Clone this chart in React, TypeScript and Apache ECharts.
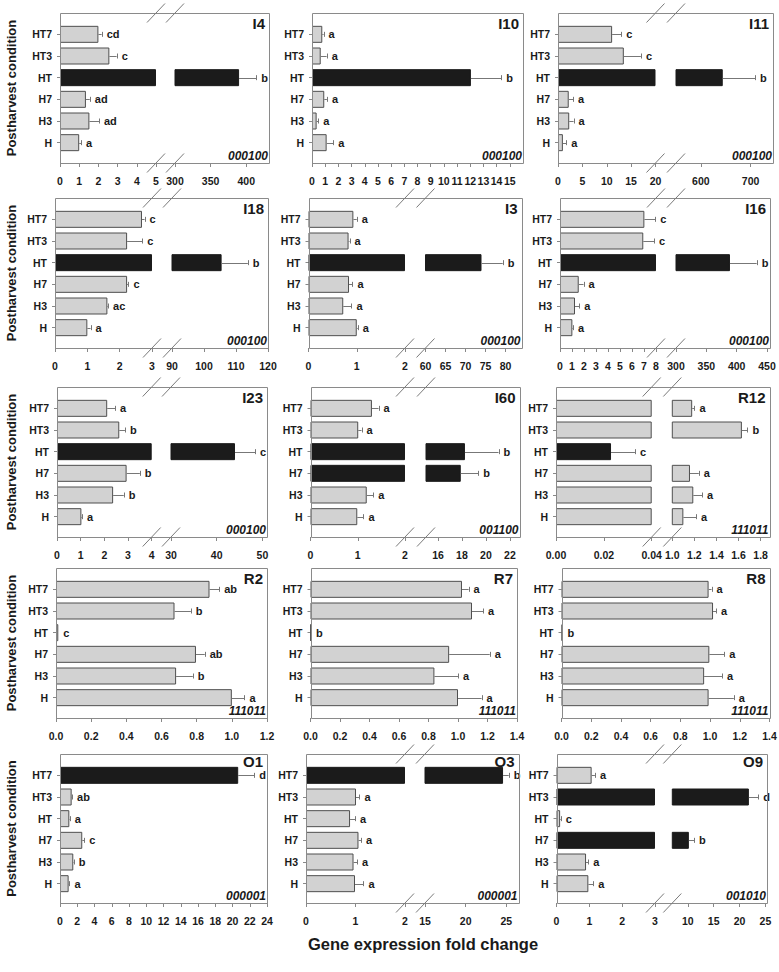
import React, { useEffect, useRef } from 'react';
import * as echarts from 'echarts';

// ---------------- DATA ----------------
const categories = ['H', 'H3', 'H7', 'HT', 'HT3', 'HT7'];

const I4_values = [1.0, 1.53, 1.35, 390, 2.57, 2.0];
const I4_errors = [0.09, 0.5, 0.2, 24, 0.38, 0.17];
const I4_letters = ['a', 'ad', 'ad', 'b', 'c', 'cd'];
const I4_dark = [0, 0, 0, 1, 0, 0];
const I4_code = '000100';
const I4_axis = [
  { min: 0, max: 5, ticks: [0, 1, 2, 3, 4, 5], decimals: 0 },
  { min: 300, max: 432, ticks: [300, 350, 400], decimals: 0 },
];

const I10_values = [1.11, 0.35, 0.93, 12.05, 0.66, 0.78];
const I10_errors = [0.5, 0.12, 0.2, 2.3, 0.45, 0.1];
const I10_letters = ['a', 'a', 'a', 'b', 'a', 'a'];
const I10_dark = [0, 0, 0, 1, 0, 0];
const I10_code = '000100';
const I10_axis = [
  { min: 0, max: 16, ticks: [0, 1, 2, 3, 4, 5, 6, 7, 8, 9, 10, 11, 12, 13, 14, 15], decimals: 0 },
];

const I11_values = [1.0, 2.3, 2.2, 644, 13.5, 11.1];
const I11_errors = [0.7, 0.9, 0.9, 65, 3.5, 1.85];
const I11_letters = ['a', 'a', 'a', 'b', 'c', 'c'];
const I11_dark = [0, 0, 0, 1, 0, 0];
const I11_code = '000100';
const I11_axis = [
  { min: 0, max: 20, ticks: [0, 5, 10, 15, 20], decimals: 0 },
  { min: 550, max: 745, ticks: [600, 700], decimals: 0 },
];

const I18_values = [1.0, 1.62, 2.23, 105.5, 2.23, 2.69];
const I18_errors = [0.1, 0.02, 0.04, 8.2, 0.47, 0.08];
const I18_letters = ['a', 'ac', 'c', 'b', 'c', 'c'];
const I18_dark = [0, 0, 0, 1, 0, 0];
const I18_code = '000100';
const I18_axis = [
  { min: 0, max: 3, ticks: [0, 1, 2, 3], decimals: 0 },
  { min: 90, max: 120, ticks: [90, 100, 110, 120], decimals: 0 },
];

const I3_values = [1.0, 0.72, 0.84, 74, 0.83, 0.93];
const I3_errors = [0.02, 0.17, 0.07, 5.3, 0.02, 0.07];
const I3_letters = ['a', 'a', 'a', 'b', 'a', 'a'];
const I3_dark = [0, 0, 0, 1, 0, 0];
const I3_code = '000100';
const I3_axis = [
  { min: 0, max: 2, ticks: [0, 1, 2], decimals: 0 },
  { min: 60, max: 84, ticks: [60, 65, 70, 75, 80], decimals: 0 },
];

const I16_values = [1.03, 1.25, 1.56, 389, 6.94, 7.03];
const I16_errors = [0.05, 0.36, 0.4, 44, 0.9, 0.9];
const I16_letters = ['a', 'a', 'a', 'b', 'c', 'c'];
const I16_dark = [0, 0, 0, 1, 0, 0];
const I16_code = '000100';
const I16_axis = [
  { min: 0, max: 8, ticks: [0, 1, 2, 3, 4, 5, 6, 7, 8], decimals: 0 },
  { min: 300, max: 455, ticks: [300, 350, 400, 450], decimals: 0 },
];

const I23_values = [1.03, 2.37, 2.94, 44.0, 2.63, 2.12];
const I23_errors = [0.03, 0.45, 0.56, 4.4, 0.24, 0.33];
const I23_letters = ['a', 'b', 'b', 'c', 'b', 'a'];
const I23_dark = [0, 0, 0, 1, 0, 0];
const I23_code = '000100';
const I23_axis = [
  { min: 0, max: 4, ticks: [0, 1, 2, 3, 4], decimals: 0 },
  { min: 30, max: 51, ticks: [30, 40, 50], decimals: 0 },
];

const I60_values = [0.99, 1.19, 17.9, 18.25, 1.01, 1.3];
const I60_errors = [0.13, 0.14, 1.45, 2.8, 0.07, 0.14];
const I60_letters = ['a', 'a', 'b', 'b', 'a', 'a'];
const I60_dark = [0, 0, 1, 1, 0, 0];
const I60_code = '001100';
const I60_axis = [
  { min: 0, max: 2, ticks: [0, 1, 2], decimals: 0 },
  { min: 15, max: 22.8, ticks: [16, 18, 20, 22], decimals: 0 },
];

const R12_values = [1.1, 1.19, 1.16, 0.023, 1.63, 1.18];
const R12_errors = [0.115, 0.08, 0.08, 0.01, 0.05, 0.02];
const R12_letters = ['a', 'a', 'a', 'c', 'b', 'a'];
const R12_dark = [0, 0, 0, 1, 0, 0];
const R12_code = '111011';
const R12_axis = [
  { min: 0, max: 0.04, ticks: [0, 0.02, 0.04], decimals: 2 },
  { min: 1.0, max: 1.88, ticks: [1.0, 1.2, 1.4, 1.6, 1.8], decimals: 1 },
];

const R2_values = [1.0, 0.683, 0.796, 0.013, 0.674, 0.873];
const R2_errors = [0.072, 0.095, 0.05, 0, 0.093, 0.055];
const R2_letters = ['a', 'b', 'ab', 'c', 'b', 'ab'];
const R2_dark = [0, 0, 0, 0, 0, 0];
const R2_code = '111011';
const R2_axis = [{ min: 0, max: 1.2, ticks: [0, 0.2, 0.4, 0.6, 0.8, 1.0, 1.2], decimals: 1 }];

const R7_values = [1.0, 0.84, 0.94, 0.003, 1.095, 1.027];
const R7_errors = [0.16, 0.16, 0.275, 0, 0.075, 0.045];
const R7_letters = ['a', 'a', 'a', 'b', 'a', 'a'];
const R7_dark = [0, 0, 0, 0, 0, 0];
const R7_code = '111011';
const R7_axis = [{ min: 0, max: 1.4, ticks: [0, 0.2, 0.4, 0.6, 0.8, 1.0, 1.2, 1.4], decimals: 1 }];

const R8_values = [0.99, 0.96, 0.995, 0.007, 1.02, 0.99];
const R8_errors = [0.17, 0.12, 0.1, 0, 0.02, 0.02];
const R8_letters = ['a', 'a', 'a', 'b', 'a', 'a'];
const R8_dark = [0, 0, 0, 0, 0, 0];
const R8_code = '111011';
const R8_axis = [{ min: 0, max: 1.4, ticks: [0, 0.2, 0.4, 0.6, 0.8, 1.0, 1.2, 1.4], decimals: 1 }];

const O1_values = [1.0, 1.54, 2.58, 1.08, 1.35, 20.66];
const O1_errors = [0.1, 0.05, 0.23, 0.05, 0.05, 1.85];
const O1_letters = ['a', 'b', 'c', 'a', 'ab', 'd'];
const O1_dark = [0, 0, 0, 0, 0, 1];
const O1_code = '000001';
const O1_axis = [
  { min: 0, max: 24, ticks: [0, 2, 4, 6, 8, 10, 12, 14, 16, 18, 20, 22, 24], decimals: 0 },
];

const O3_values = [0.99, 0.96, 1.06, 0.89, 1.01, 24.6];
const O3_errors = [0.17, 0.07, 0.05, 0.1, 0.07, 0.7];
const O3_letters = ['a', 'a', 'a', 'a', 'a', 'b'];
const O3_dark = [0, 0, 0, 0, 0, 1];
const O3_code = '000001';
const O3_axis = [
  { min: 0, max: 2, ticks: [0, 1, 2], decimals: 0 },
  { min: 15, max: 26.5, ticks: [15, 20, 25], decimals: 0 },
];

const O9_values = [0.97, 0.9, 10.2, 0.11, 21.8, 1.07];
const O9_errors = [0.15, 0.07, 1.0, 0.02, 1.8, 0.1];
const O9_letters = ['a', 'a', 'b', 'c', 'd', 'a'];
const O9_dark = [0, 0, 1, 0, 1, 0];
const O9_code = '001010';
const O9_axis = [
  { min: 0, max: 3, ticks: [0, 1, 2, 3], decimals: 0 },
  { min: 7, max: 25.3, ticks: [10, 15, 20, 25], decimals: 0 },
];

const Y_TITLE = 'Postharvest condition';
const X_TITLE = 'Gene expression fold change';

// ---------------- LAYOUT ----------------
const rows: [number, number][] = [
  [13, 163],
  [198, 348],
  [387, 537],
  [568, 718],
  [754, 903],
];
const titleDy = [3, 3, 3, 3, 0];

type Frame = { row: number; x0: number; x1: number; brk?: [number, number] };
const frames: Record<string, Frame> = {
  I4: { row: 0, x0: 60, x1: 269, brk: [156, 175] },
  I10: { row: 0, x0: 312, x1: 523 },
  I11: { row: 0, x0: 558, x1: 773, brk: [655.5, 676] },
  I18: { row: 1, x0: 55, x1: 268, brk: [152, 172] },
  I3: { row: 1, x0: 308.5, x1: 521.5, brk: [405, 425.5] },
  I16: { row: 1, x0: 560, x1: 770, brk: [656, 676] },
  I23: { row: 2, x0: 57, x1: 267, brk: [151.7, 171] },
  I60: { row: 2, x0: 310.5, x1: 519.5, brk: [405, 426] },
  R12: { row: 2, x0: 556, x1: 769.5, brk: [651.7, 672.3] },
  R2: { row: 3, x0: 56, x1: 267 },
  R7: { row: 3, x0: 310.5, x1: 517 },
  R8: { row: 3, x0: 561.5, x1: 769.5 },
  O1: { row: 4, x0: 60, x1: 267 },
  O3: { row: 4, x0: 306, x1: 518.5, brk: [405, 425] },
  O9: { row: 4, x0: 556.5, x1: 767, brk: [655, 672.3] },
};

const panels = [
  { name: 'I4', values: I4_values, errors: I4_errors, letters: I4_letters, dark: I4_dark, code: I4_code, axis: I4_axis },
  { name: 'I10', values: I10_values, errors: I10_errors, letters: I10_letters, dark: I10_dark, code: I10_code, axis: I10_axis },
  { name: 'I11', values: I11_values, errors: I11_errors, letters: I11_letters, dark: I11_dark, code: I11_code, axis: I11_axis },
  { name: 'I18', values: I18_values, errors: I18_errors, letters: I18_letters, dark: I18_dark, code: I18_code, axis: I18_axis },
  { name: 'I3', values: I3_values, errors: I3_errors, letters: I3_letters, dark: I3_dark, code: I3_code, axis: I3_axis },
  { name: 'I16', values: I16_values, errors: I16_errors, letters: I16_letters, dark: I16_dark, code: I16_code, axis: I16_axis },
  { name: 'I23', values: I23_values, errors: I23_errors, letters: I23_letters, dark: I23_dark, code: I23_code, axis: I23_axis },
  { name: 'I60', values: I60_values, errors: I60_errors, letters: I60_letters, dark: I60_dark, code: I60_code, axis: I60_axis },
  { name: 'R12', values: R12_values, errors: R12_errors, letters: R12_letters, dark: R12_dark, code: R12_code, axis: R12_axis },
  { name: 'R2', values: R2_values, errors: R2_errors, letters: R2_letters, dark: R2_dark, code: R2_code, axis: R2_axis },
  { name: 'R7', values: R7_values, errors: R7_errors, letters: R7_letters, dark: R7_dark, code: R7_code, axis: R7_axis },
  { name: 'R8', values: R8_values, errors: R8_errors, letters: R8_letters, dark: R8_dark, code: R8_code, axis: R8_axis },
  { name: 'O1', values: O1_values, errors: O1_errors, letters: O1_letters, dark: O1_dark, code: O1_code, axis: O1_axis },
  { name: 'O3', values: O3_values, errors: O3_errors, letters: O3_letters, dark: O3_dark, code: O3_code, axis: O3_axis },
  { name: 'O9', values: O9_values, errors: O9_errors, letters: O9_letters, dark: O9_dark, code: O9_code, axis: O9_axis },
];

// ---------------- STYLE ----------------
const FONT = "'Liberation Sans', Arial, Helvetica, sans-serif";
const TEXT = '#1a1a1a';
const FRAME = '#8a8a8a';
const darkStyle = { color: '#1b1b1b', borderColor: '#1b1b1b', borderWidth: 1 };
const lightStyle = { color: '#d2d2d2', borderColor: '#4f4f4f', borderWidth: 1 };

function crisp(v: number) {
  return Math.round(v) + 0.5;
}

function makeRender(letters: string[]) {
  return (params: any, api: any) => {
    const v = api.value(0);
    const c = api.value(1);
    const e = api.value(2);
    const p0 = api.coord([v, c]);
    const p1 = api.coord([v + e, c]);
    const children: any[] = [];
    if (e > 0) {
      children.push({
        type: 'line',
        shape: { x1: p0[0], y1: crisp(p0[1]), x2: p1[0], y2: crisp(p1[1]) },
        style: { stroke: '#777', lineWidth: 1 },
      });
      children.push({
        type: 'line',
        shape: { x1: crisp(p1[0]), y1: p1[1] - 2.5, x2: crisp(p1[0]), y2: p1[1] + 2.5 },
        style: { stroke: '#777', lineWidth: 1 },
      });
    }
    children.push({
      type: 'text',
      x: p1[0] + 5,
      y: p1[1],
      style: {
        text: letters[params.dataIndex],
        fill: TEXT,
        fontSize: 11,
        fontWeight: 'bold',
        fontFamily: FONT,
        align: 'left',
        verticalAlign: 'middle',
      },
    });
    return { type: 'group', children };
  };
}

function buildOption() {
  const grid: any[] = [];
  const xAxis: any[] = [];
  const yAxis: any[] = [];
  const series: any[] = [];
  const elements: any[] = [];

  panels.forEach((p) => {
    const f = frames[p.name];
    const [top, bottom] = rows[f.row];
    const gridTop = top + 10.5;
    const gridH = 130;
    const segPx: [number, number][] = f.brk
      ? [
          [f.x0, f.brk[0]],
          [f.brk[1], f.x1],
        ]
      : [[f.x0, f.x1]];

    p.axis.forEach((seg, si) => {
      const gi = grid.length;
      const [sx0, sx1] = segPx[si];
      const first = si === 0;
      grid.push({ left: sx0, top: gridTop, width: sx1 - sx0, height: gridH, outerBoundsMode: 'none' });
      xAxis.push({
        gridIndex: gi,
        type: 'value',
        min: seg.min,
        max: seg.max,
        offset: bottom - (gridTop + gridH),
        axisLine: { show: false },
        splitLine: { show: false },
        axisTick: {
          show: true,
          inside: false,
          length: 4,
          customValues: seg.ticks,
          lineStyle: { color: '#888', width: 1 },
        },
        axisLabel: {
          show: true,
          customValues: seg.ticks,
          margin: 12,
          fontSize: 10.5,
          fontWeight: 'bold',
          fontFamily: FONT,
          color: TEXT,
          formatter: (v: number) => v.toFixed(seg.decimals),
        },
      });
      yAxis.push({
        gridIndex: gi,
        type: 'category',
        data: categories,
        axisLine: { show: false },
        splitLine: { show: false },
        axisTick: { show: first, alignWithLabel: true, length: 3, lineStyle: { color: '#888' } },
        axisLabel: {
          show: first,
          interval: 0,
          margin: 8,
          fontSize: 10.5,
          fontWeight: 'bold',
          fontFamily: FONT,
          color: TEXT,
        },
      });

      const multi = p.axis.length > 1;
      const barData = p.values.map((v, i) => {
        let val: number | null;
        if (!multi) val = v;
        else if (si === 0) val = Math.min(v, seg.max);
        else val = v >= seg.min ? v : null;
        if (val === null) return '-';
        return { value: val, itemStyle: p.dark[i] ? darkStyle : lightStyle };
      });
      series.push({
        type: 'bar',
        xAxisIndex: gi,
        yAxisIndex: gi,
        data: barData,
        barWidth: 17,
        clip: true,
        silent: true,
        z: 2,
      });

      const errItems: number[][] = [];
      const errLetters: string[] = [];
      p.values.forEach((v, i) => {
        if (v >= seg.min && v <= seg.max) {
          errItems.push([v, i, p.errors[i]]);
          errLetters.push(p.letters[i]);
        }
      });
      series.push({
        type: 'custom',
        xAxisIndex: gi,
        yAxisIndex: gi,
        data: errItems,
        encode: { x: 0, y: 1 },
        renderItem: makeRender(errLetters),
        clip: false,
        silent: true,
        z: 3,
      });
    });

    // frame
    elements.push({
      type: 'rect',
      shape: { x: crisp(f.x0), y: crisp(top), width: Math.round(f.x1) - Math.round(f.x0), height: bottom - top },
      style: { fill: 'none', stroke: FRAME, lineWidth: 1 },
      z: 5,
      silent: true,
    });
    // break marks
    if (f.brk) {
      f.brk.forEach((c) => {
        [top, bottom].forEach((edge) => {
          elements.push({
            type: 'line',
            shape: { x1: c - 9, y1: edge + 9.5, x2: c + 9, y2: edge - 9.5 },
            style: { stroke: '#7a7a7a', lineWidth: 1 },
            z: 6,
            silent: true,
          });
        });
      });
    }
    // panel title
    elements.push({
      type: 'text',
      x: f.x1 - 4,
      y: top + titleDy[f.row],
      z: 7,
      style: {
        text: p.name,
        fill: TEXT,
        fontSize: 15,
        fontWeight: 'bold',
        fontFamily: FONT,
        align: 'right',
        verticalAlign: 'top',
      },
    });
    // code
    elements.push({
      type: 'text',
      x: f.x1 - 1,
      y: bottom - 1,
      z: 7,
      style: {
        text: p.code,
        fill: TEXT,
        fontSize: 12,
        fontWeight: 'bold',
        fontStyle: 'italic',
        fontFamily: FONT,
        align: 'right',
        verticalAlign: 'bottom',
      },
    });
  });

  rows.forEach(([top, bottom]) => {
    elements.push({
      type: 'text',
      x: 11,
      y: (top + bottom) / 2,
      rotation: Math.PI / 2,
      style: {
        text: Y_TITLE,
        fill: TEXT,
        fontSize: 13,
        fontWeight: 'bold',
        fontFamily: FONT,
        align: 'center',
        verticalAlign: 'middle',
      },
    });
  });

  elements.push({
    type: 'text',
    x: 423,
    y: 944,
    style: {
      text: X_TITLE,
      fill: TEXT,
      fontSize: 16.5,
      fontWeight: 'bold',
      fontFamily: FONT,
      align: 'center',
      verticalAlign: 'middle',
    },
  });

  return {
    animation: false,
    backgroundColor: '#ffffff',
    grid,
    xAxis,
    yAxis,
    series,
    graphic: { elements },
  };
}

export default function App() {
  const ref = useRef<HTMLDivElement>(null);
  useEffect(() => {
    if (!ref.current) return;
    const chart = echarts.init(ref.current, undefined, { renderer: 'svg' });
    chart.setOption(buildOption() as any);
    return () => chart.dispose();
  }, []);
  return (
    <div
      ref={ref}
      style={{ position: 'absolute', left: 0, top: 0, width: 779, height: 972, background: '#fff' }}
    />
  );
}
